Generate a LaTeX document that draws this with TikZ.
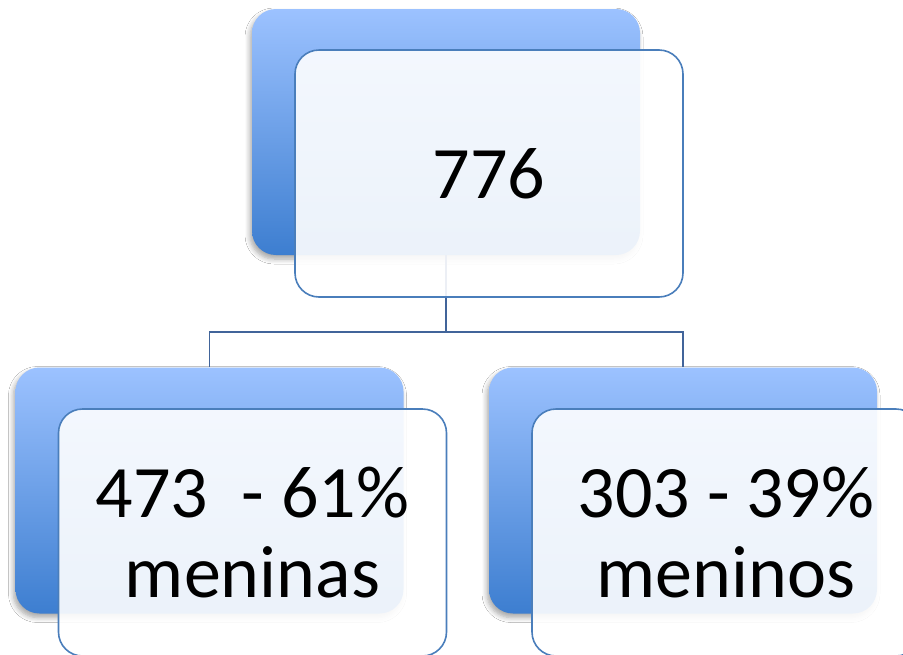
\documentclass[tikz,border=0pt]{standalone}
\usepackage{fontspec}
\setmainfont{Carlito}
\usetikzlibrary{shadows.blur}
\definecolor{backtop}{HTML}{9CC2FF}
\definecolor{backbottom}{HTML}{3D7ED0}
\definecolor{frameblue}{HTML}{4A7EBB}
\definecolor{linkblue}{HTML}{41649A}
\tikzset{
  backbox/.style={minimum width=388pt, minimum height=246pt, inner sep=0pt,
    rounded corners=24pt, top color=backtop, bottom color=backbottom,
    blur shadow={shadow xshift=-2pt, shadow yshift=-4pt, shadow opacity=35,
      shadow blur steps=6, shadow blur radius=5pt}},
  frontbox/.style={minimum width=388pt, minimum height=247pt, inner sep=0pt,
    rounded corners=24pt, draw=frameblue, line width=1.6pt,
    fill=white, fill opacity=0.9, text opacity=1, align=center,
    font=\fontsize{74}{80}\selectfont},
  conn/.style={draw=linkblue, line width=1.6pt}
}
\begin{document}
\begin{tikzpicture}[x=1pt, y=-1pt]
  \clip (0,0) rectangle (903,654);
  \fill[white] (0,0) rectangle (903,654);
  % back panels
  \node[backbox] (topback) at (446,132) {};
  \node[backbox] (leftback) at (209.5,490.5) {};
  \node[backbox] (rightback) at (683,490.5) {};
  % tree links
  \coordinate (bus) at (0,332);
  \draw[conn] (topback.south) -- (topback.south |- bus) -| (leftback.north);
  \draw[conn] (topback.south |- bus) -| (rightback.north);
  % front panels with the figures
  \node[frontbox] (topfront) at (489,173.5) {776};
  \node[frontbox] (leftfront) at (252.5,532.5) {473~ - 61\%\\meninas};
  \node[frontbox] (rightfront) at (726,532.5) {303 - 39\%\\meninos};
\end{tikzpicture}
\end{document}
